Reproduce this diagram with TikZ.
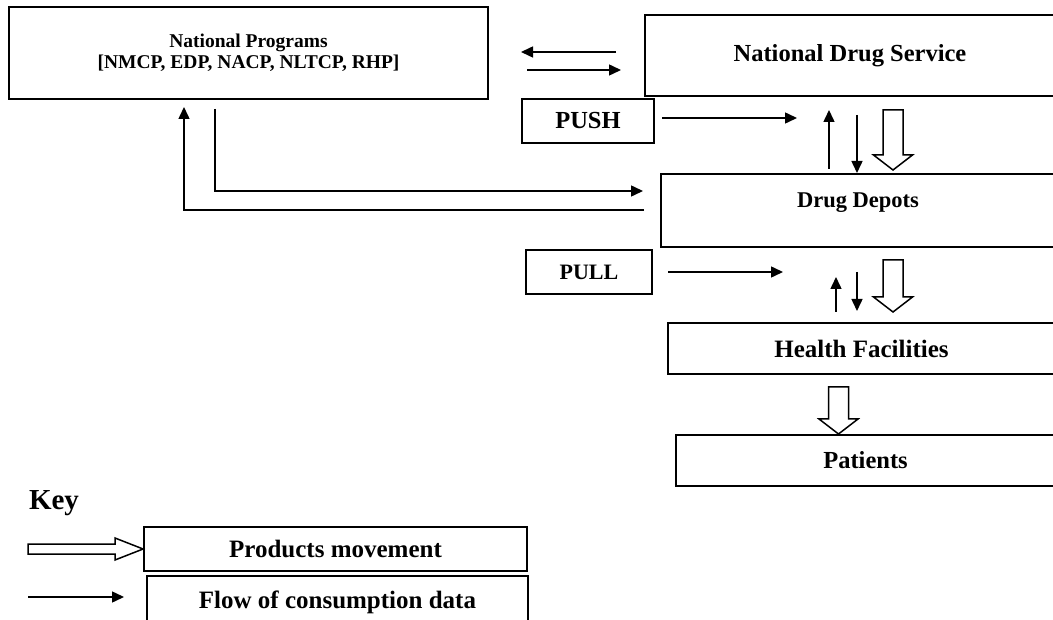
\documentclass[tikz,border=0pt]{standalone}
\usepackage{fontspec}
\setmainfont{Liberation Serif}
\usetikzlibrary{arrows.meta}

% hollow block arrow pointing down: axis x, top y, tip y
\newcommand{\prodarrow}[3]{%
  \draw[prodline] (#1-10,#2) -- (#1+10,#2) -- (#1+10,#3-15) -- (#1+19.5,#3-15)
    -- (#1,#3) -- (#1-19.5,#3-15) -- (#1-10,#3-15) -- cycle;}

\tikzset{
  box/.style={draw, line width=1.8pt, inner sep=0pt, font=\bfseries},
  flowarrow/.style={-{Triangle[length=12pt,width=11pt]}, line width=1.5pt},
  prodline/.style={draw, line width=1.5pt, line join=miter, fill=white},
}

\begin{document}
\begin{tikzpicture}[x=1pt, y=-1pt]

  \useasboundingbox (0,0) rectangle (1053,620);
  \clip (0,0) rectangle (1053,620);

  % Supply chain levels
  \node[box, minimum width=479pt, minimum height=92pt, align=center,
    font=\bfseries\fontsize{19.5}{21}\selectfont] (np) at (248.5,53)
    {National Programs\\{}[NMCP, EDP, NACP, NLTCP, RHP]};
  \node[box, minimum width=410pt, minimum height=81pt,
    font=\bfseries\fontsize{24.5}{26}\selectfont] (nds) at (850,55.5) {National Drug Service};
  \node[box, minimum width=394pt, text height=33.5pt, text depth=39.5pt,
    font=\bfseries\fontsize{22.5}{24}\selectfont] (depots) at (858,210.5) {Drug Depots};
  \node[box, minimum width=387pt, minimum height=51pt,
    font=\bfseries\fontsize{25}{27}\selectfont] (hf) at (861.5,348.5) {Health Facilities};
  \node[box, minimum width=379pt, minimum height=51pt,
    font=\bfseries\fontsize{24.5}{26}\selectfont] (pat) at (865.5,460.5) {Patients};

  % Push / pull labels
  \node[box, minimum width=132pt, minimum height=44pt,
    font=\bfseries\fontsize{24.5}{26}\selectfont] (push) at (588,121) {PUSH};
  \node[box, minimum width=126pt, minimum height=44pt,
    font=\bfseries\fontsize{22}{24}\selectfont] (pull) at (589,272) {PULL};

  % Key
  \node[font=\bfseries\fontsize{29}{31}\selectfont] (key) at (54,503) {Key};
  \node[box, minimum width=383pt, minimum height=44pt,
    font=\bfseries\fontsize{25}{27}\selectfont] (prod) at (335.5,549) {Products movement};
  \node[box, minimum width=381pt, text height=32pt, text depth=42pt,
    font=\bfseries\fontsize{25}{27}\selectfont] (flow) at (337.5,613) {Flow of consumption data};

  % Arrow ends
  \coordinate (bt1) at (616,52);  \coordinate (bt2) at (521,52);
  \coordinate (bb1) at (527,70);  \coordinate (bb2) at (621,70);
  \coordinate (ps1) at (662,118); \coordinate (ps2) at (797,118);
  \coordinate (up1) at (829,169); \coordinate (up2) at (829,110);
  \coordinate (dn1) at (857,115); \coordinate (dn2) at (857,173);
  \coordinate (np1) at (215,109); \coordinate (np2) at (215,191); \coordinate (np3) at (643,191);
  \coordinate (rt1) at (644,210); \coordinate (rt2) at (184,210); \coordinate (rt3) at (184,107);
  \coordinate (pl1) at (668,272); \coordinate (pl2) at (783,272);
  \coordinate (uq1) at (836,312); \coordinate (uq2) at (836,277);
  \coordinate (dq1) at (857,272); \coordinate (dq2) at (857,311);
  \coordinate (kf1) at (28,597);  \coordinate (kf2) at (124,597);

  % Consumption data flows
  \draw[flowarrow] (bt1) -- (bt2);
  \draw[flowarrow] (bb1) -- (bb2);
  \draw[flowarrow] (ps1) -- (ps2);
  \draw[flowarrow] (up1) -- (up2);
  \draw[flowarrow] (dn1) -- (dn2);
  \draw[flowarrow] (np1) -- (np2) -- (np3);
  \draw[flowarrow] (rt1) -- (rt2) -- (rt3);
  \draw[flowarrow] (pl1) -- (pl2);
  \draw[flowarrow] (uq1) -- (uq2);
  \draw[flowarrow] (dq1) -- (dq2);
  \draw[flowarrow] (kf1) -- (kf2);

  % Products movement
  \prodarrow{893}{110}{170}
  \prodarrow{893}{260}{312}
  \prodarrow{838.5}{387}{434}
  \draw[prodline] (28,544) -- (115,544) -- (115,538) -- (prod.west)
    -- (115,560) -- (115,554) -- (28,554) -- cycle;

\end{tikzpicture}
\end{document}
